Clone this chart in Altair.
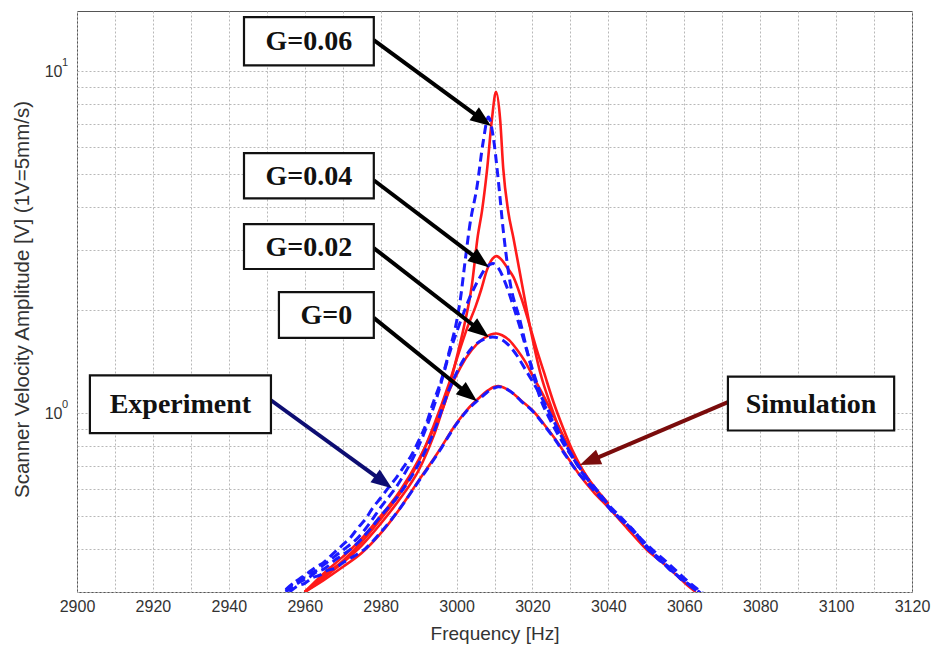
import math
import altair as alt
import pandas as pd

# ---------------------------------------------------------------
# Scanner velocity amplitude vs. excitation frequency, for several
# feedback gains G.  Simulation = solid red, experiment = dashed blue.
# ---------------------------------------------------------------

# Simulation, G = 0
sim_g0_f = [2960, 2965, 2970, 2975, 2980, 2985, 2990, 2995, 3000, 3003, 3006, 3008, 3010, 3011,
            3013, 3015, 3017, 3020, 3023, 3026, 3029, 3032, 3036, 3040, 3045, 3050, 3055, 3060, 3063]
sim_g0_v = [0.300, 0.325, 0.355, 0.39, 0.445, 0.525, 0.635, 0.765, 0.935, 1.03, 1.11, 1.16, 1.195, 1.20,
            1.18, 1.14, 1.09, 1.02, 0.93, 0.84, 0.75, 0.67, 0.59, 0.53, 0.46, 0.40, 0.36, 0.32, 0.30]

# Simulation, G = 0.02
sim_g2_f = [2960, 2965, 2970, 2975, 2980, 2985, 2990, 2994, 2998, 3001, 3004, 3007, 3009, 3010.5,
            3012, 3014, 3016, 3018, 3020, 3023, 3026, 3029, 3032, 3036, 3040]
sim_g2_v = [0.30, 0.33, 0.365, 0.41, 0.475, 0.56, 0.68, 0.86, 1.16, 1.36, 1.53, 1.65, 1.70, 1.71,
            1.69, 1.63, 1.53, 1.42, 1.29, 1.12, 0.96, 0.82, 0.71, 0.61, 0.54]

# Simulation, G = 0.04
sim_g4_f = [2960, 2965, 2970, 2975, 2980, 2985, 2990, 2994, 2998, 3001, 3003, 3005, 3006.5, 3008,
            3009.5, 3010.5, 3012, 3013.5, 3015, 3017, 3019, 3021, 3023, 3025.5, 3028, 3030.5, 3033,
            3036, 3040]
sim_g4_v = [0.30, 0.335, 0.37, 0.42, 0.49, 0.58, 0.72, 0.92, 1.22, 1.55, 1.80, 2.05, 2.30, 2.62,
            2.83, 2.88, 2.80, 2.65, 2.50, 2.18, 1.85, 1.55, 1.32, 1.08, 0.91, 0.78, 0.69,
            0.615, 0.545]

# Simulation, G = 0.06
sim_g6_f = [2960, 2965, 2970, 2975, 2980, 2985, 2990, 2994, 2997, 3000, 3002, 3004, 3005.6, 3006.7,
            3008, 3009.3, 3010.4, 3011.5, 3012.3, 3013.6, 3015, 3016.7, 3019.4, 3022, 3025, 3027.3,
            3030, 3032.5, 3036, 3040]
sim_g6_v = [0.30, 0.34, 0.38, 0.43, 0.50, 0.59, 0.73, 0.90, 1.08, 1.45, 1.80, 2.35, 3.30, 3.90,
            5.10, 7.20, 8.70, 7.20, 5.20, 3.90, 3.25, 2.57, 1.78, 1.32, 1.04, 0.89,
            0.78, 0.70, 0.61, 0.53]

# Experiment, G = 0
exp_g0_f = [2956, 2958, 2960, 2962, 2964, 2966, 2968, 2970, 2973, 2976, 2980, 2985, 2990, 2995,
            3000, 3003, 3006, 3008, 3010, 3011, 3013, 3015, 3017, 3020, 3023, 3026, 3029, 3032,
            3035, 3038, 3041, 3044, 3047, 3050, 3053, 3056, 3059, 3062, 3065]
exp_g0_v = [0.300, 0.312, 0.318, 0.330, 0.336, 0.347, 0.352, 0.365, 0.382, 0.402, 0.448, 0.525,
            0.632, 0.76, 0.93, 1.025, 1.10, 1.15, 1.185, 1.195, 1.18, 1.14, 1.085, 1.015,
            0.925, 0.835, 0.745, 0.67, 0.615, 0.565, 0.52, 0.48, 0.45, 0.405, 0.38, 0.35,
            0.33, 0.31, 0.293]

# Experiment, G = 0.02
exp_g2_f = [2955, 2957, 2959, 2961, 2963, 2965, 2968, 2971, 2974, 2977, 2980, 2985, 2990, 2994,
            2998, 3001, 3004, 3007, 3009.5, 3012, 3014, 3016, 3018, 3020, 3023, 3026, 3029, 3032,
            3035, 3038, 3041, 3044, 3047, 3050, 3053, 3056, 3059, 3062, 3065]
exp_g2_v = [0.300, 0.312, 0.322, 0.330, 0.343, 0.350, 0.372, 0.392, 0.418, 0.455, 0.50, 0.58,
            0.71, 0.88, 1.17, 1.38, 1.55, 1.64, 1.67, 1.64, 1.57, 1.47, 1.35, 1.24, 1.08, 0.93,
            0.80, 0.70, 0.625, 0.57, 0.515, 0.485, 0.445, 0.41, 0.375, 0.355, 0.328, 0.312, 0.293]

# Experiment, G = 0.04
exp_g4_f = [2955, 2957, 2959, 2961, 2963, 2965, 2968, 2971, 2974, 2977, 2980, 2985, 2990, 2993,
            2995, 2998, 3001, 3003.5, 3006, 3008, 3009.6, 3011, 3013, 3015, 3017, 3019, 3021, 3023,
            3026, 3029, 3032, 3035, 3038, 3041, 3044, 3047, 3050, 3053, 3056, 3059, 3062, 3065]
exp_g4_v = [0.305, 0.318, 0.326, 0.338, 0.346, 0.360, 0.382, 0.405, 0.432, 0.475, 0.53, 0.63,
            0.80, 0.97, 1.13, 1.48, 1.85, 2.18, 2.48, 2.68, 2.74, 2.66, 2.38, 2.05, 1.74, 1.46,
            1.24, 1.07, 0.92, 0.80, 0.705, 0.63, 0.575, 0.52, 0.48, 0.445, 0.405, 0.378, 0.352,
            0.33, 0.31, 0.292]

# Experiment, G = 0.06
exp_g6_f = [2955, 2957, 2959, 2961, 2963, 2965, 2967, 2970, 2972, 2974, 2976, 2978, 2980, 2982,
            2984, 2986, 2988, 2990, 2992, 2993.8, 2996, 2998.3, 3000, 3001, 3002.2, 3003.5, 3005.4,
            3007, 3008.4, 3009.6, 3011, 3012.3, 3014, 3016.7, 3019.4, 3022, 3025, 3028, 3031,
            3034, 3037, 3040, 3043, 3046, 3049, 3052, 3055, 3058, 3061, 3064, 3066]
exp_g6_v = [0.302, 0.318, 0.330, 0.342, 0.355, 0.366, 0.384, 0.412, 0.432, 0.462, 0.49, 0.530,
            0.565, 0.605, 0.645, 0.695, 0.75, 0.83, 0.93, 1.07, 1.25, 1.55, 1.85, 2.15, 2.75,
            3.55, 4.60, 6.20, 7.35, 6.50, 4.80, 3.43, 2.45, 1.87, 1.40, 1.11, 0.94, 0.82, 0.73,
            0.655, 0.595, 0.54, 0.50, 0.462, 0.425, 0.395, 0.37, 0.345, 0.322, 0.303, 0.292]

# Annotation boxes (data coordinates: Hz, V)
note_text = ["G=0.06", "G=0.04", "G=0.02", "G=0", "Experiment", "Simulation"]
note_x0 = [2944.0, 2944.0, 2944.0, 2953.2, 2903.4, 3071.5]
note_x1 = [2978.2, 2978.2, 2978.2, 2978.2, 2951.1, 3115.3]
note_top = [14.4, 5.76, 3.57, 2.26, 1.29, 1.28]
note_bottom = [10.4, 4.25, 2.64, 1.66, 0.874, 0.89]

# Pointer arrows: start -> tip (data coordinates) and colour
arrow_f0 = [2978.2, 2978.2, 2978.2, 2978.2, 2951.1, 3071.5]
arrow_v0 = [12.32, 4.80, 3.04, 1.90, 1.091, 1.077]
arrow_f1 = [3009.1, 3008.5, 3008.5, 3005.4, 2983.0, 3032.5]
arrow_v1 = [6.91, 2.67, 1.668, 1.084, 0.6035, 0.705]
arrow_color = ["#000000", "#000000", "#000000", "#000000", "#0d0d72", "#7a0c0c"]

X_DOMAIN = [2900, 3120]
Y_DOMAIN = [0.3, 15]
PLOT_W, PLOT_H = 835, 581
HEAD_R = 11  # arrowhead half-length in px

LOG_SPAN = math.log10(Y_DOMAIN[1]) - math.log10(Y_DOMAIN[0])


def to_px(f, v):
    px = (f - X_DOMAIN[0]) / (X_DOMAIN[1] - X_DOMAIN[0]) * PLOT_W
    py = (math.log10(Y_DOMAIN[1]) - math.log10(v)) / LOG_SPAN * PLOT_H
    return px, py


def to_data(px, py):
    f = X_DOMAIN[0] + px / PLOT_W * (X_DOMAIN[1] - X_DOMAIN[0])
    v = 10 ** (math.log10(Y_DOMAIN[1]) - py / PLOT_H * LOG_SPAN)
    return f, v


# ---- tidy tables ----
curve_rows = []
for name, kind, fs, vs in [
    ("G=0", "sim", sim_g0_f, sim_g0_v),
    ("G=0.02", "sim", sim_g2_f, sim_g2_v),
    ("G=0.04", "sim", sim_g4_f, sim_g4_v),
    ("G=0.06", "sim", sim_g6_f, sim_g6_v),
    ("G=0", "exp", exp_g0_f, exp_g0_v),
    ("G=0.02", "exp", exp_g2_f, exp_g2_v),
    ("G=0.04", "exp", exp_g4_f, exp_g4_v),
    ("G=0.06", "exp", exp_g6_f, exp_g6_v),
]:
    for i, (f, v) in enumerate(zip(fs, vs)):
        curve_rows.append({"f": f, "v": v, "series": f"{kind} {name}", "kind": kind, "order": i})
curves = pd.DataFrame(curve_rows)

notes = pd.DataFrame({
    "text": note_text,
    "x0": note_x0, "x1": note_x1,
    "top": note_top, "bottom": note_bottom,
})
notes["xc"] = (notes["x0"] + notes["x1"]) / 2
notes["yc"] = (notes["top"] * notes["bottom"]) ** 0.5

arrow_rows = []
for f0, v0, f1, v1, col in zip(arrow_f0, arrow_v0, arrow_f1, arrow_v1, arrow_color):
    p0x, p0y = to_px(f0, v0)
    p1x, p1y = to_px(f1, v1)
    dx, dy = p1x - p0x, p1y - p0y
    length = math.hypot(dx, dy)
    ux, uy = dx / length, dy / length
    angle = math.degrees(math.atan2(ux, -uy)) % 360
    hf, hv = to_data(p1x - HEAD_R * ux, p1y - HEAD_R * uy)
    arrow_rows.append({"f0": f0, "v0": v0, "hf": hf, "hv": hv, "angle": angle, "color": col})
arrows = pd.DataFrame(arrow_rows)

exponents = pd.DataFrame({"f": [2900, 2900], "v": [1, 10], "e": ["0", "1"]})

# ---- shared encodings ----
AXIS_FONT = "Liberation Sans"
x_scale = alt.Scale(domain=X_DOMAIN, nice=False, zero=False)
y_scale = alt.Scale(type="log", domain=Y_DOMAIN, nice=False)

x_axis = alt.Axis(
    values=list(range(2900, 3121, 10)),
    format="d",
    labelExpr="datum.value % 20 == 0 ? datum.label : ''",
    title="Frequency [Hz]",
    titleY=41, titleBaseline="middle", titleFontSize=19,
    labelPadding=6, labelFlush=False, labelOverlap=False,
)
y_axis = alt.Axis(
    values=[0.3, 0.4, 0.5, 0.6, 0.7, 0.8, 0.9, 1, 2, 3, 4, 5, 6, 7, 8, 9, 10],
    labelExpr="(datum.value == 1 || datum.value == 10) ? '10' : ''",
    title="Scanner Velocity Amplitude [V] (1V=5mm/s)",
    titleAngle=270, titleX=-55, titleY=288, titleAlign="center", titleBaseline="middle",
    titleFontSize=20.5,
    labelPadding=15, labelFlush=False, labelOverlap=False,
)


def X(field):
    return alt.X(f"{field}:Q", scale=x_scale, axis=x_axis)


def Y(field):
    return alt.Y(f"{field}:Q", scale=y_scale, axis=y_axis)


base_curves = alt.Chart(curves)

sim_lines = base_curves.transform_filter(alt.datum.kind == "sim").mark_line(
    color="#ff1a1a", strokeWidth=2.6, interpolate="monotone", clip=True
).encode(x=X("f"), y=Y("v"), detail="series:N", order="order:Q")

exp_lines = base_curves.transform_filter(alt.datum.kind == "exp").mark_line(
    color="#1a1aff", strokeWidth=3, strokeDash=[9, 5], interpolate="monotone", clip=True
).encode(x=X("f"), y=Y("v"), detail="series:N", order="order:Q")

arrow_lines = alt.Chart(arrows).mark_rule(strokeWidth=4, strokeCap="butt").encode(
    x=X("f0"), y=Y("v0"), x2="hf:Q", y2="hv:Q",
    color=alt.Color("color:N", scale=None),
)

arrow_heads = alt.Chart(arrows).mark_point(
    shape="M0,-1L0.72,0.9L-0.72,0.9Z", filled=True, size=(2 * HEAD_R) ** 2,
    opacity=1, strokeWidth=0,
).encode(
    x=X("hf"), y=Y("hv"),
    angle=alt.Angle("angle:Q", scale=None),
    color=alt.Color("color:N", scale=None),
)

boxes = alt.Chart(notes).mark_rect(fill="white", stroke="#111111", strokeWidth=2.2).encode(
    x=X("x0"), x2="x1:Q", y=Y("top"), y2="bottom:Q",
)

box_text = alt.Chart(notes).mark_text(
    font="Liberation Serif", fontWeight="bold", fontSize=28, color="#111111",
    align="center", baseline="middle", dy=1,
).encode(x=X("xc"), y=Y("yc"), text="text:N")

exp_labels = alt.Chart(exponents).mark_text(
    font=AXIS_FONT, fontSize=11, color="#333333", align="left", baseline="middle", dx=-15, dy=-8,
).encode(x=X("f"), y=Y("v"), text="e:N")

chart = alt.layer(
    sim_lines, exp_lines, arrow_lines, arrow_heads, boxes, box_text, exp_labels
).properties(
    width=PLOT_W,
    height=PLOT_H,
    autosize=alt.AutoSizeParams(type="none"),
    padding={"left": 77, "top": 11, "right": 24, "bottom": 56},
    background="white",
).configure_view(
    stroke="#555555", strokeWidth=1,
).configure_axis(
    grid=True, gridColor="#b8b8b8", gridDash=[2, 2], gridWidth=1,
    domain=False, ticks=False,
    labelFont=AXIS_FONT, labelFontSize=16, labelColor="#333333",
    titleFont=AXIS_FONT, titleFontWeight="normal", titleColor="#333333",
)

chart.save("out.html", embed_options={"renderer": "svg", "actions": False})
